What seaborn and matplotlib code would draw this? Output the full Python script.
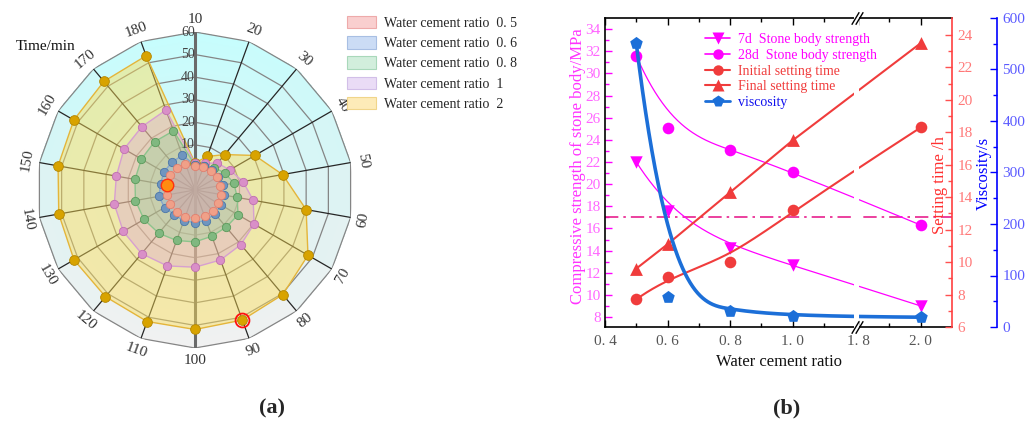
import numpy as np
import matplotlib
matplotlib.use("Agg")
import matplotlib.pyplot as plt
import seaborn as sns
from matplotlib.colors import LinearSegmentedColormap
from matplotlib.patches import Patch
from matplotlib.lines import Line2D
import matplotlib.transforms as mtrans

# ---------------- data : radar (a) ----------------
times = [10, 20, 30, 40, 50, 60, 70, 80, 90, 100, 110, 120, 130, 140, 150, 160, 170, 180]
ratio_05 = [0.5, 0.8, 1.0, 1.2, 1.4, 1.7, 1.9, 2.1, 2.4, 2.5, 2.6, 2.6, 2.7, 2.8, 2.5, 3.0, 2.7, 2.4]
ratio_06 = [1.0, 1.5, 1.8, 1.9, 2.5, 3.0, 3.5, 3.7, 4.4, 4.4, 4.6, 4.2, 5.6, 6.2, 5.5, 5.9, 6.0, 6.4]
ratio_08 = [1.0, 1.5, 3.0, 5.2, 7.5, 9.0, 12.0, 11.5, 11.8, 13.0, 13.8, 15.0, 16.1, 16.8, 17.0, 17.4, 17.9, 17.9]
ratio_1 = [1.8, 2.7, 5.5, 7.8, 11.6, 16.2, 20.2, 21.6, 23.0, 24.2, 25.8, 26.8, 26.7, 26.3, 25.4, 26.3, 26.6, 27.7]
ratio_2 = [2.0, 5.8, 10.5, 20.6, 29.4, 40.0, 47.8, 50.5, 51.3, 51.8, 52.0, 51.7, 51.9, 51.3, 51.6, 52.0, 52.8, 53.3]
radar_labels = ["Water cement ratio  0. 5", "Water cement ratio  0. 6", "Water cement ratio  0. 8",
                "Water cement ratio  1", "Water cement ratio  2"]
radial_ticks = [10, 20, 30, 40, 50, 60]

# ---------------- data : line chart (b) ----------------
wc_ratio = [0.5, 0.6, 0.8, 1.0, 2.0]
strength_7d = [22.0, 17.6, 14.2, 12.7, 9.0]
strength_28d = [31.6, 25.1, 23.1, 21.1, 16.3]
initial_set = [7.7, 9.1, 10.0, 13.2, 18.3]
final_set = [9.6, 11.1, 14.3, 17.5, 23.5]
viscosity = [551, 58, 31, 21, 19]
ref_strength = 17.0
xtick_vals = [0.4, 0.6, 0.8, 1.0, 1.8, 2.0]
xtick_labels = ["0. 4", "0. 6", "0. 8", "1. 0", "1. 8", "2. 0"]
xminor_vals = [0.5, 0.7, 0.9, 1.1, 1.9]
line_labels = ["7d  Stone body strength", "28d  Stone body strength",
               "Initial setting time", "Final setting time", "viscosity"]

# ---------------- style ----------------
sns.set_theme(style="ticks")
plt.rcParams["font.family"] = ["Liberation Serif", "DejaVu Serif"]
plt.rcParams["mathtext.fontset"] = "stix"

W, H = 1033, 422
fig = plt.figure(figsize=(W / 100, H / 100), dpi=100)
fig.patch.set_facecolor("white")

# ======================= (a) radar =======================
axr = fig.add_axes([37 / W, 1 - 348 / H, 316 / W, 316 / H], projection="polar")
axr.set_theta_zero_location("N")
axr.set_theta_direction(-1)
axr.set_ylim(-10, 60)
axr.grid(False)
axr.set_xticks([])
axr.set_yticks([])
axr.spines["polar"].set_visible(False)
axr.patch.set_visible(False)

n = len(times)
theta = np.deg2rad(np.arange(n) * 360.0 / n)
theta_c = np.append(theta, theta[0])

# background gradient (top cyan -> bottom grey), polygon shaped
t_edges = np.deg2rad(np.arange(n + 1) * 360.0 / n)
r_edges = np.linspace(-10, 60, 71)
TT, RR = np.meshgrid(t_edges, r_edges)
tc = 0.5 * (t_edges[:-1] + t_edges[1:])
rc = 0.5 * (r_edges[:-1] + r_edges[1:])
TC, RC = np.meshgrid(tc, rc)
C = (RC + 10) / 70.0 * np.cos(TC)
bg_cmap = LinearSegmentedColormap.from_list("bg", ["#f1f1f1", "#ddf3f3", "#c6fdfd"])
axr.pcolormesh(TT, RR, C, cmap=bg_cmap, vmin=-1, vmax=1, shading="flat",
               antialiased=False, edgecolors="none", zorder=0)

# rings and spokes
for lev in radial_ticks:
    axr.plot(theta_c, [lev] * (n + 1), color="#858585", lw=0.9, zorder=1)
for t in theta:
    axr.plot([t, t], [-10, 60], color="#262626", lw=0.9, zorder=1)
for t in [0, np.pi]:
    axr.plot([t, t], [-10, 60], color="#6a6a6a", lw=2.2, zorder=1)

series = [
    (ratio_2, "#ffde54", "#e4b53a", "#d8a300", "#b38600", 7, 0.45),
    (ratio_1, "#dba6d6", "#d7a0d0", "#d98fc8", "#c070b0", 6, 0.38),
    (ratio_08, "#98cf98", "#8cc48c", "#80b880", "#5a9a5a", 6, 0.38),
    (ratio_06, "#8fb0d8", "#86a6cc", "#6f95bf", "#4a76a8", 6, 0.38),
    (ratio_05, "#f2a090", "#eea090", "#f0a088", "#e08070", 6, 0.38),
]
for vals, fc, ec, mc, mec, ms, al in series:
    vc = np.append(vals, vals[0])
    axr.fill(theta_c, vc, color=fc, alpha=al, lw=0, zorder=2)
    axr.plot(theta_c, vc, color=ec, lw=1.0, zorder=3)
    axr.plot(theta, vals, "o", ms=ms, mfc=mc, mec=mec, mew=0.6, zorder=4)

# highlighted points
axr.plot(theta[8], ratio_2[8], "o", ms=10, mfc="none", mec="#ff1010", mew=1.3, zorder=5)
axr.plot(theta[14], ratio_05[14], "o", ms=9, mfc="#ff8c10", mec="#ff3010", mew=1.0, zorder=5)

# radial tick labels along the top spoke
for lev in radial_ticks:
    axr.text(0, lev, str(lev), ha="right", va="center", fontsize=10, color="#444444", zorder=6)

# angular labels
for t, lab in zip(theta, times):
    deg = np.rad2deg(t)
    rot = -deg if (deg <= 90 or deg >= 270) else 180 - deg
    axr.text(t, 65.5, str(lab), rotation=rot, rotation_mode="anchor", ha="center",
             va="center", fontsize=11, color="#333333")

fig.text(16 / W, 1 - 47 / H, "Time/min", ha="left", va="center", fontsize=11, color="#111111")

radar_handles = [
    Patch(facecolor="#f9cfcf", edgecolor="#eeaaaa", lw=0.8),
    Patch(facecolor="#cbdcf5", edgecolor="#a8bfe3", lw=0.8),
    Patch(facecolor="#d2eedc", edgecolor="#a9d8ba", lw=0.8),
    Patch(facecolor="#eadcf6", edgecolor="#d2bfe8", lw=0.8),
    Patch(facecolor="#fdebb8", edgecolor="#f0d58a", lw=0.8),
]
fig.legend(radar_handles, radar_labels, loc="upper left", bbox_to_anchor=(347 / W, 1 - 16 / H),
           frameon=False, fontsize=10, handlelength=2.1, handleheight=1.0,
           handletextpad=0.6, labelspacing=0.45, borderpad=0, borderaxespad=0)

# ======================= (b) line chart =======================
def brk(x):
    x = np.asarray(x, float)
    return np.where(x > 1.5, x - 0.59, x)


def bspline(px, py, k=3, num=300):
    px = np.asarray(px, float)
    py = np.asarray(py, float)
    m = len(px)
    kn = np.concatenate([np.zeros(k), np.linspace(0, 1, m - k + 1), np.ones(k)])
    u = np.linspace(0, 1, num)
    u[-1] = 1 - 1e-10

    def N(i, kk):
        if kk == 0:
            return ((kn[i] <= u) & (u < kn[i + 1])).astype(float)
        out = np.zeros_like(u)
        d1 = kn[i + kk] - kn[i]
        if d1 > 0:
            out += (u - kn[i]) / d1 * N(i, kk - 1)
        d2 = kn[i + kk + 1] - kn[i + 1]
        if d2 > 0:
            out += (kn[i + kk + 1] - u) / d2 * N(i + 1, kk - 1)
        return out

    B = np.array([N(i, k) for i in range(m)])
    return B.T @ px, B.T @ py


xd = brk(wc_ratio)
MAG, RED, BLU = "#ff00ff", "#f03c3c", "#1c6fd8"

ax2 = fig.add_axes([605 / W, 1 - 327 / H, 347 / W, 309 / H])
ax3 = ax2.twinx()
ax4 = ax2.twinx()
ax4.spines["right"].set_position(("outward", 45 * 0.72))

# strength (left axis)
ax2.axhline(ref_strength, color="#e8208e", lw=1.2, ls=(0, (8, 3, 1.5, 3)), zorder=1)
bx, by = bspline(xd, strength_7d)
sns.lineplot(x=bx, y=by, sort=False, estimator=None, ax=ax2, color=MAG, lw=0.9)
bx, by = bspline(xd, strength_28d)
sns.lineplot(x=bx, y=by, sort=False, estimator=None, ax=ax2, color=MAG, lw=0.9)
sns.scatterplot(x=xd, y=strength_7d, ax=ax2, marker="v", s=80, color=MAG, linewidth=0, zorder=4)
sns.scatterplot(x=xd, y=strength_28d, ax=ax2, marker="o", s=70, color=MAG, linewidth=0, zorder=4)

# setting time (red axis)
bx, by = bspline(xd, initial_set)
sns.lineplot(x=bx, y=by, sort=False, estimator=None, ax=ax3, color=RED, lw=1.5)
sns.lineplot(x=xd, y=final_set, ax=ax3, color=RED, lw=1.5)
sns.scatterplot(x=xd, y=initial_set, ax=ax3, marker="o", s=70, color=RED, linewidth=0, zorder=4)
sns.scatterplot(x=xd, y=final_set, ax=ax3, marker="^", s=85, color=RED, linewidth=0, zorder=4)

# viscosity (blue axis)
bx, by = bspline(xd, viscosity)
sns.lineplot(x=bx, y=by, sort=False, estimator=None, ax=ax4, color=BLU, lw=2.6)
sns.scatterplot(x=xd, y=viscosity, ax=ax4, marker="p", s=90, color=BLU, linewidth=0, zorder=4)

# axes limits / ticks
ax2.set_xlim(0.4, float(brk(2.1)))
ax2.set_ylim(7.1, 35)
ax3.set_ylim(6, 25.05)
ax4.set_ylim(0, 600)

ax2.set_xticks(brk(xtick_vals))
ax2.set_xticklabels(xtick_labels)
ax2.set_xticks(brk(xminor_vals), minor=True)
ax2.set_yticks(np.arange(8, 35, 2))
ax2.set_yticks(np.arange(8, 35, 1), minor=True)
ax3.set_yticks(np.arange(6, 25, 2))
ax3.set_yticks(np.arange(6, 25, 1), minor=True)
ax4.set_yticks(np.arange(0, 601, 100))
ax4.set_yticks(np.arange(0, 601, 50), minor=True)

ax2.tick_params(axis="x", which="both", direction="in", top=True, bottom=True,
                labelsize=11, labelcolor="#555555", color="black", pad=6)
ax2.tick_params(axis="x", which="major", length=5, width=1)
ax2.tick_params(axis="x", which="minor", length=3, width=1)
ax2.tick_params(axis="y", which="both", direction="in", left=True, right=False,
                color=MAG, labelcolor="#ff66ff", labelsize=11, width=1, pad=3)
ax2.tick_params(axis="y", which="major", length=5)
ax2.tick_params(axis="y", which="minor", length=3)
ax3.tick_params(axis="y", which="both", direction="in", color="#ff5050",
                labelcolor="#ff7878", labelsize=11, width=1, pad=4)
ax3.tick_params(axis="y", which="major", length=5)
ax3.tick_params(axis="y", which="minor", length=3)
ax4.tick_params(axis="y", which="both", direction="in", color="#0000ff",
                labelcolor="#5b5bff", labelsize=11, width=1, pad=4)
ax4.tick_params(axis="y", which="major", length=5)
ax4.tick_params(axis="y", which="minor", length=3)
for a in (ax3, ax4):
    a.tick_params(axis="x", which="both", bottom=False, top=False, labelbottom=False)

for s in ("top", "bottom", "left"):
    ax2.spines[s].set_color("black")
    ax2.spines[s].set_linewidth(1.2)
ax2.spines["right"].set_visible(False)
for s in ("top", "bottom", "left"):
    ax3.spines[s].set_visible(False)
    ax4.spines[s].set_visible(False)
ax3.spines["right"].set_color("#ff4040")
ax3.spines["right"].set_linewidth(1.2)
ax4.spines["right"].set_color("#0000ff")
ax4.spines["right"].set_linewidth(1.2)

ax2.set_ylabel("")
ax3.set_ylabel("")
ax4.set_ylabel("")
ax2.set_xlabel("")
fig.text(578 / W, 1 - 166 / H, "Compressive strength of stone body/MPa", rotation=90,
         ha="center", va="center", fontsize=12, color="#ff33ff")
fig.text(940 / W, 1 - 185 / H, "Setting time /h", rotation=90, ha="center", va="center",
         fontsize=12, color="#ff3030")
fig.text(984 / W, 1 - 173 / H, "Viscosity/s", rotation=90, ha="center", va="center",
         fontsize=12, color="#0000ff")
fig.text(779 / W, 1 - 362 / H, "Water cement ratio", ha="center", va="center",
         fontsize=12, color="#111111")

# broken-axis gap and marks
xb = float(brk(1.8)) - 0.005
ax4.axvspan(xb - 0.009, xb + 0.009, ymin=-0.01, ymax=1.01, color="white", lw=0,
            zorder=5, clip_on=False)
trans = mtrans.blended_transform_factory(ax4.transData, ax4.transAxes)
for dx in (-0.006, 0.006):
    ax4.plot([xb + dx, xb + dx], [0, 1], transform=trans, ls="none",
             marker=[(-0.6, -1), (0.6, 1)], ms=9, mec="black", mew=1.0, clip_on=False, zorder=6)

# legend for (b)
lh = [
    Line2D([], [], color=MAG, lw=1.2, marker="v", ms=8, mec="none"),
    Line2D([], [], color=MAG, lw=1.2, marker="o", ms=7.5, mec="none"),
    Line2D([], [], color=RED, lw=1.5, marker="o", ms=7.5, mec="none"),
    Line2D([], [], color=RED, lw=1.5, marker="^", ms=8, mec="none"),
    Line2D([], [], color=BLU, lw=2.0, marker="p", ms=8.5, mec="none"),
]
for a in (ax2, ax3, ax4):
    lg0 = a.get_legend()
    if lg0 is not None:
        lg0.remove()
leg = ax4.legend(lh, line_labels, loc="upper left", bbox_to_anchor=(705 / W, 1 - 33 / H),
                 bbox_transform=fig.transFigure, frameon=False, fontsize=10,
                 handlelength=1.8, handletextpad=0.55, labelspacing=0.2,
                 borderpad=0, borderaxespad=0)
for txt, c in zip(leg.get_texts(), [MAG, MAG, RED, RED, "#1010ee"]):
    txt.set_color(c)

# captions
fig.text(272 / W, 1 - 408 / H, "(a)", ha="center", va="center", fontsize=16, fontweight="bold")
fig.text(787 / W, 1 - 408 / H, "(b)", ha="center", va="center", fontsize=16, fontweight="bold")

fig.savefig("out.png", dpi=100)
